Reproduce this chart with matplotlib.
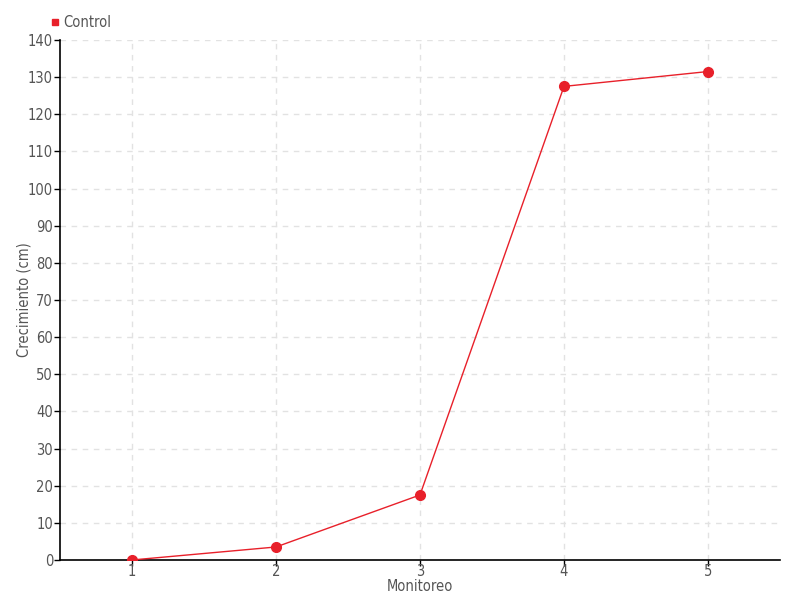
import matplotlib.pyplot as plt
from matplotlib.lines import Line2D

plt.rcParams['font.family'] = ['DejaVu Sans', 'Liberation Sans']
plt.rcParams['font.stretch'] = 'condensed'

monitoreo = [1, 2, 3, 4, 5]
control = [0, 3.5, 17.5, 127.5, 131.5]
red = "#e8202a"
text_color = "#555555"

fig = plt.figure(figsize=(8, 6), dpi=100)
ax = fig.add_axes([0.075, 0.0667, 0.9, 0.8667])

ax.plot(monitoreo, control, color=red, linewidth=1, marker="o", markersize=7,
        markerfacecolor=red, markeredgecolor=red, zorder=3)

ax.set_xlim(0.5, 5.5)
ax.set_ylim(0, 140)
ax.set_xticks(monitoreo)
ax.set_yticks(range(0, 141, 10))
ax.grid(True, color="#e2e2e2", linestyle=(0, (4, 4)), linewidth=1)
ax.set_axisbelow(True)

for side in ["top", "right"]:
    ax.spines[side].set_visible(False)
for side in ["left", "bottom"]:
    ax.spines[side].set_color("black")
    ax.spines[side].set_linewidth(1.2)

ax.tick_params(axis="both", colors=text_color, labelsize=10.5, length=4, width=1)
ax.tick_params(axis="both", color="black")
ax.tick_params(axis="x", pad=-1)
ax.tick_params(axis="y", pad=1)

ax.set_xlabel("Monitoreo", color=text_color, fontsize=10.5, labelpad=0)
ax.set_ylabel("Crecimiento (cm)", color=text_color, fontsize=10.5, labelpad=-3)

handle = Line2D([], [], marker="s", color=red, linestyle="none", markersize=5)
fig.legend([handle], ["Control"], loc="center left", bbox_to_anchor=(0.052, 0.963),
           frameon=False, fontsize=10.5, handletextpad=0.1, handlelength=1,
           labelcolor=text_color, borderaxespad=0)

fig.savefig("out.png", dpi=100, facecolor="white")
